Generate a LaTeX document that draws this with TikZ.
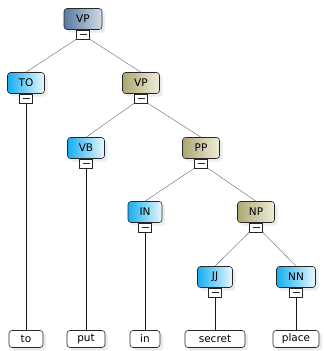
\documentclass[tikz,border=0pt]{standalone}
\usepackage{fontspec}
\setmainfont{DejaVu Sans}
\usetikzlibrary{positioning,shadows}
\definecolor{phraseDark}{HTML}{ADA671}
\definecolor{phraseLight}{HTML}{EFEDDA}
\definecolor{posDark}{HTML}{16AEEF}
\definecolor{posLight}{HTML}{EAF8FE}
\definecolor{rootDark}{HTML}{56789F}
\definecolor{rootLight}{HTML}{D3DCE8}

\begin{document}
\begin{tikzpicture}[x=1pt,y=-1pt,
   every node/.style={font=\fontsize{10.5}{12}\selectfont},
   tag/.style={draw=black!85,semithick,rounded corners=3pt,minimum width=37pt,
     minimum height=21pt,inner sep=0pt,
     drop shadow={shadow xshift=3pt,shadow yshift=-3pt,fill=black!15}},
   phrase/.style={tag,left color=phraseDark,right color=phraseLight},
   postag/.style={tag,left color=posDark,right color=posLight},
   roottag/.style={tag,left color=rootDark,right color=rootLight},
   word/.style={draw=black!85,semithick,rounded corners=3pt,fill=white,
     minimum height=17pt,inner sep=0pt,
     drop shadow={shadow xshift=3pt,shadow yshift=-3pt,fill=black!15}},
   fold/.style={draw=black!85,fill=white,minimum width=13pt,minimum height=9pt,
     inner sep=0pt,below=0pt of #1,
     path picture={\draw[black!85] ([xshift=-3.5pt]path picture bounding box.center)
       -- ([xshift=3.5pt]path picture bounding box.center);}},
   branch/.style={draw=black!60,thin},
   stem/.style={draw=black!90,semithick}]
  \useasboundingbox (0,0) rectangle (324,351);
  % phrase and tag boxes
  \node[roottag,minimum width=38pt] (vp) at (83,19) {VP};
  \node[postag] (to) at (26,83) {TO};
  \node[phrase] (vp2) at (141,83) {VP};
  \node[postag] (vb) at (86,148) {VB};
  \node[phrase] (pp) at (201,148) {PP};
  \node[postag,minimum width=34pt] (in) at (145,212) {IN};
  \node[phrase] (np) at (256,212) {NP};
  \node[postag,minimum width=35pt] (jj) at (215,277) {JJ};
  \node[postag,minimum width=39pt] (nn) at (296,277) {NN};
  % collapse boxes
  \node[fold=vp] (vpf) {};
  \node[fold=to] (tof) {};
  \node[fold=vp2] (vp2f) {};
  \node[fold=vb] (vbf) {};
  \node[fold=pp] (ppf) {};
  \node[fold=in] (inf) {};
  \node[fold=np] (npf) {};
  \node[fold=jj] (jjf) {};
  \node[fold=nn] (nnf) {};
  % words
  \node[word,minimum width=34pt] (w1) at (26,339) {to};
  \node[word,minimum width=38pt] (w2) at (86,339) {put};
  \node[word,minimum width=30pt] (w3) at (145,339) {in};
  \node[word,minimum width=60pt] (w4) at (215,339) {secret};
  \node[word,minimum width=46pt] (w5) at (296,339) {place};
  % branches
  \path[branch]
   (vpf.south west) edge (to.north)
   (vpf.south east) edge (vp2.north)
   (vp2f.south west) edge (vb.north)
   (vp2f.south east) edge (pp.north)
   (ppf.south west) edge (in.north)
   (ppf.south east) edge (np.north)
   (npf.south west) edge (jj.north)
   (npf.south east) edge (nn.north);
  \path[stem]
   (tof) edge (w1)
   (vbf) edge (w2)
   (inf) edge (w3)
   (jjf) edge (w4)
   (nnf) edge (w5);
\end{tikzpicture}
\end{document}
